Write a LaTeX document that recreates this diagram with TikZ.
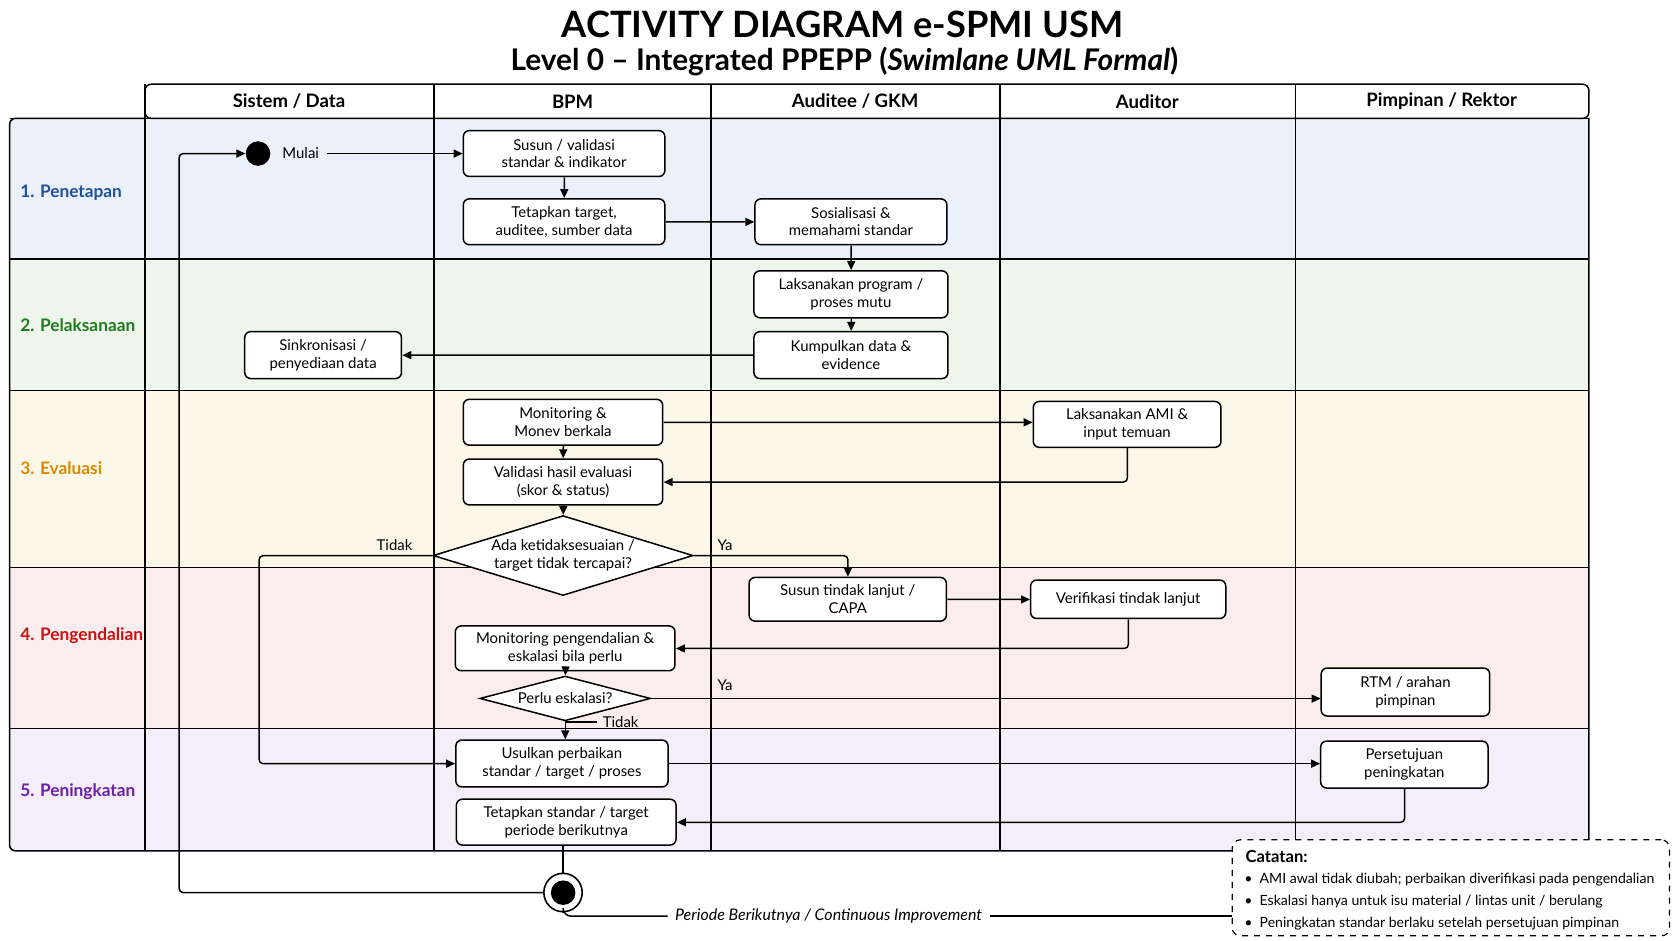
\documentclass[tikz,border=0pt]{standalone}
\usepackage{fontspec}
\setmainfont{Lato}
\usetikzlibrary{shapes.geometric,arrows.meta}
\definecolor{rb}{HTML}{EAF1FA}\definecolor{rg}{HTML}{EEF6EC}\definecolor{ry}{HTML}{FBF7E8}
\definecolor{rr}{HTML}{FBEDED}\definecolor{rp}{HTML}{F3EEF9}
\definecolor{lb}{HTML}{1F4E9C}\definecolor{lg}{HTML}{1E7B1E}\definecolor{ly}{HTML}{D98A00}
\definecolor{lr}{HTML}{CC1111}\definecolor{lp}{HTML}{6A1FA8}
\begin{document}
\begin{tikzpicture}[x=0.5pt,y=-0.5pt,scale=1.0663,transform shape,
 box/.style={draw,rounded corners=3pt,fill=white,align=center,font=\fontsize{7}{8.2}\selectfont,line width=0.75pt,inner sep=1pt},
 dia/.style={draw,diamond,aspect=3.2,fill=white,align=center,font=\fontsize{7}{8.2}\selectfont,line width=0.75pt,inner sep=0pt},
 ar/.style={-{Triangle[length=4.5pt,width=4pt]},line width=0.75pt},
 ln/.style={line width=0.75pt},
 lane/.style={font=\fontsize{8.1}{10}\selectfont\bfseries,anchor=west},
 hd/.style={font=\fontsize{8.7}{10}\selectfont\bfseries},
 lbl/.style={font=\fontsize{7}{8}\selectfont}]
\useasboundingbox (0,0) rectangle (1568,882);
\fill[white] (0,0) rectangle (1568,882);
% title
\node (t1) at (790,23) {\fontsize{17}{20}\selectfont\bfseries ACTIVITY DIAGRAM e-SPMI USM};
\node (t2) at (792,58) {\fontsize{14}{16}\selectfont\bfseries Level 0 – Integrated PPEPP (\textit{Swimlane UML Formal})};
% rows
\fill[rb] (9,111) rectangle (1490,243);
\fill[rg] (9,243) rectangle (1490,366);
\fill[ry] (9,366) rectangle (1490,532);
\fill[rr] (9,532) rectangle (1490,683);
\fill[rp] (9,683) rectangle (1490,798);
\draw[ln,rounded corners=3pt] (136,111) -- (9,111) -- (9,798) -- (1490,798) -- (1490,111);
\draw[ln,rounded corners=3pt] (136,111) -- (136,79) -- (1490,79) -- (1490,111) -- cycle;
\foreach \y in {111,243,366,532,683} \draw[ln] (9,\y) -- (1490,\y);
\foreach \x in {136,407,667,938,1215} \draw[ln] (\x,79) -- (\x,798);
\node[hd] (h1) at (271,95) {Sistem / Data};
\node[hd] (h2) at (537,95) {BPM};
\node[hd] (h3) at (802,95) {Auditee / GKM};
\node[hd] (h4) at (1076,95) {Auditor};
\node[hd] (h5) at (1352,95) {Pimpinan / Rektor};
\node[lane,text=lb] (l1) at (12,181) {1. Penetapan};
\node[lane,text=lg] (l2) at (12,305) {2. Pelaksanaan};
\node[lane,text=ly] (l3) at (12,439) {3. Evaluasi};
\node[lane,text=lr] (l4) at (12,596) {4. Pengendalian};
\node[lane,text=lp] (l5) at (12,742) {5. Peningkatan};
% nodes
\node[circle,fill=black,minimum size=11.5pt,inner sep=0] (start) at (242,144) {};
\node[lbl] (mulai) at (282,144) {Mulai};
\node[box,minimum width=94.5pt,minimum height=21.5pt] (susun) at (529,144) {Susun / validasi\\standar \& indikator};
\node[box,minimum width=94.5pt,minimum height=21.5pt] (tetap) at (529,208) {Tetapkan target,\\auditee, sumber data};
\node[box,minimum width=90pt,minimum height=21.5pt] (sos) at (798,208) {Sosialisasi \&\\memahami standar};
\node[box,minimum width=91pt,minimum height=22pt] (lak) at (798,276) {Laksanakan program /\\proses mutu};
\node[box,minimum width=91pt,minimum height=22pt] (kum) at (798,333) {Kumpulkan data \&\\evidence};
\node[box,minimum width=73.5pt,minimum height=22pt] (sink) at (303,333) {Sinkronisasi /\\penyediaan data};
\node[box,minimum width=93.5pt,minimum height=21.5pt] (mon) at (528,396) {Monitoring \&\\Monev berkala};
\node[box,minimum width=88pt,minimum height=21.5pt] (ami) at (1057,398) {Laksanakan AMI \&\\input temuan};
\node[box,minimum width=93.5pt,minimum height=21.5pt] (val) at (528,452) {Validasi hasil evaluasi\\(skor \& status)};
\node[dia,minimum width=122pt,minimum height=37.5pt] (d1) at (528,521) {Ada ketidaksesuaian /\\target tidak tercapai?};
\node[box,minimum width=92.5pt,minimum height=20.5pt] (capa) at (795,562) {Susun tindak lanjut /\\CAPA};
\node[box,minimum width=91.5pt,minimum height=18pt] (ver) at (1058,562) {Verifikasi tindak lanjut};
\node[box,minimum width=103pt,minimum height=21pt] (mp) at (530,608) {Monitoring pengendalian \&\\eskalasi bila perlu};
\node[dia,minimum width=80pt,minimum height=21pt] (d2) at (530,655) {Perlu eskalasi?};
\node[box,minimum width=79pt,minimum height=22.5pt] (rtm) at (1318,649) {RTM / arahan\\pimpinan};
\node[box,minimum width=99.5pt,minimum height=22pt] (usul) at (527,716) {Usulkan perbaikan\\standar / target / proses};
\node[box,minimum width=78.5pt,minimum height=22pt] (pers) at (1317,717) {Persetujuan\\peningkatan};
\node[box,minimum width=103pt,minimum height=21.5pt] (tsn) at (531,771) {Tetapkan standar / target\\periode berikutnya};
\node[circle,draw,line width=0.8pt,fill=white,minimum size=18pt,inner sep=0] (end) at (528,837) {};
\node[circle,fill=black,minimum size=11.5pt,inner sep=0] at (end) {};
% connectors
\draw[ar] (mulai.east) -- (susun.west);
\draw[ar] (susun) -- (tetap);
\draw[ar] (tetap) -- (sos);
\draw[ar] (sos) -- (lak);
\draw[ar] (lak) -- (kum);
\draw[ar] (kum) -- (sink);
\draw[ar] (mon) -- (ami.west |- mon.east);
\draw[ar] (mon) -- (val);
\draw[ar,rounded corners=2pt] (ami.south) |- (val.east);
\draw[ar] (val) -- (d1);
\draw[ar,rounded corners=2pt] (d1.west) -| (243,600) |- (usul.west);
\node[lbl] (tidak1) at (370,511) {Tidak};
\draw[ar,rounded corners=2pt] (d1.east) -| (capa.north);
\node[lbl] (ya1) at (680,511) {Ya};
\draw[ar] (capa) -- (ver);
\draw[ar,rounded corners=2pt] (ver.south) |- (mp.east);
\draw[ar] (mp) -- (d2);
\draw[ar] (d2.east) -- (rtm.west |- d2.east);
\node[lbl] (ya2) at (680,643) {Ya};
\draw[ar] (d2.south) -- (d2.south |- usul.north);
\draw[ln] (d2.south) -- ++(30,0) coordinate (tk);
\node[lbl,anchor=west] (tidak2) at ([xshift=-1pt]tk) {Tidak};
\draw[ar] (usul.east) -- (pers.west |- usul.east);
\draw[ar,rounded corners=2pt] (pers.south) |- (tsn.east);
\draw[ln] (tsn.south -| end.north) -- (end.north);
\draw[ar,rounded corners=2pt] (end.west) -- (168,837) -- (168,144) -- (start.west);
\node[lbl,font=\fontsize{7.5}{9}\selectfont\itshape] (per) at (777,859) {Periode Berikutnya / Continuous Improvement};
\draw[ln,rounded corners=4pt] (end.south) |- (per.west);
% note
\node[draw,dashed,rounded corners=4pt,fill=white,line width=0.6pt,minimum width=205pt,minimum height=45pt,anchor=north west,inner sep=0] (note) at (1155,787) {};
\draw[ln] (per.east) -- (note.west |- per.east);
\node[anchor=north west,font=\fontsize{7.8}{9}\selectfont\bfseries] at (1161,790) {Catatan:};
\node[anchor=north west,align=left,font=\fontsize{6.6}{10.3}\selectfont] at (1160,812) {\textbullet\enspace AMI awal tidak diubah; perbaikan diverifikasi pada pengendalian\\ \textbullet\enspace Eskalasi hanya untuk isu material / lintas unit / berulang\\ \textbullet\enspace Peningkatan standar berlaku setelah persetujuan pimpinan};
\end{tikzpicture}
\end{document}
